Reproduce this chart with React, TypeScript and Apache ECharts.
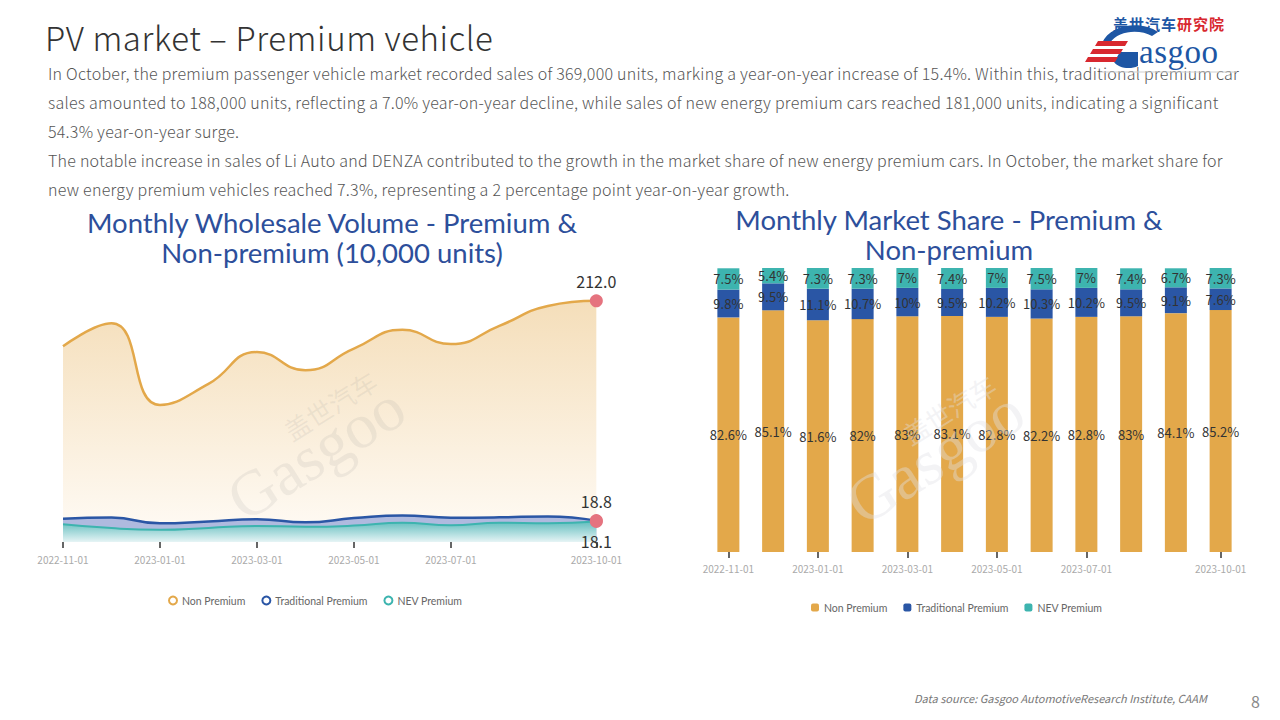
import React, { useEffect, useRef } from 'react';
import * as echarts from 'echarts';

// ---------- data ----------
const months = [
  '2022-11-01', '2022-12-01', '2023-01-01', '2023-02-01', '2023-03-01', '2023-04-01',
  '2023-05-01', '2023-06-01', '2023-07-01', '2023-08-01', '2023-09-01', '2023-10-01',
];
const seriesNames = ['Non Premium', 'Traditional Premium', 'NEV Premium'];

// wholesale volume, 10,000 units
const nonPremiumVolume = [172.0, 192.3, 120.5, 139.0, 167.0, 151.0, 170.0, 186.5, 174.0, 190.0, 207.5, 212.0];
const traditionalVolume = [20.4, 21.5, 16.4, 18.1, 20.1, 17.3, 21.0, 23.4, 21.4, 21.7, 22.5, 18.8];
const nevVolume = [15.6, 12.2, 10.8, 12.4, 14.1, 13.4, 14.4, 17.0, 14.7, 16.9, 16.5, 18.1];

// market share, %
const nonPremiumShare = [82.6, 85.1, 81.6, 82, 83, 83.1, 82.8, 82.2, 82.8, 83, 84.1, 85.2];
const traditionalShare = [9.8, 9.5, 11.1, 10.7, 10, 9.5, 10.2, 10.3, 10.2, 9.5, 9.1, 7.6];
const nevShare = [7.5, 5.4, 7.3, 7.3, 7, 7.4, 7, 7.5, 7, 7.4, 6.7, 7.3];

const paragraphLines = [
  'In October, the premium passenger vehicle market recorded sales of 369,000 units, marking a year-on-year increase of 15.4%. Within this, traditional premium car',
  'sales amounted to 188,000 units, reflecting a 7.0% year-on-year decline, while sales of new energy premium cars reached 181,000 units, indicating a significant',
  '54.3% year-on-year surge.',
  'The notable increase in sales of Li Auto and DENZA contributed to the growth in the market share of new energy premium cars. In October, the market share for',
  'new energy premium vehicles reached 7.3%, representing a 2 percentage point year-on-year growth.',
];

// ---------- styles ----------
const GOLD = '#E3A84A';
const BLUE = '#2A56A5';
const TEAL = '#3DB4AF';
const TITLE_BLUE = '#2D4F9B';
const CJK = '"Noto Sans CJK SC", "Noto Sans", sans-serif';
const TITLE_FONT = 'Lato, "Noto Sans", sans-serif';

const labelInterval = (i: number) => (i % 2 === 0 && i <= 8) || i === months.length - 1;

function withEndPoint(arr: number[], pos: string) {
  return arr.map((v, i) =>
    i === arr.length - 1
      ? {
          value: v,
          symbol: 'circle',
          symbolSize: 13,
          itemStyle: { color: '#E5737F' },
          label: {
            show: true,
            position: pos,
            distance: 5,
            color: '#333',
            fontSize: 16,
            fontFamily: CJK,
            formatter: (p: any) => Number(p.value).toFixed(1),
          },
        }
      : v
  );
}

function watermark(cx: number, cy: number, fill: string) {
  return [
    {
      type: 'text',
      x: cx + 14,
      y: cy - 48,
      rotation: 0.56,
      z: 100,
      silent: true,
      style: { text: '盖世汽车', fontSize: 26, fontFamily: CJK, fill, align: 'center', verticalAlign: 'middle' },
    },
    {
      type: 'text',
      x: cx,
      y: cy,
      rotation: 0.56,
      z: 100,
      silent: true,
      style: { text: 'Gasgoo', fontSize: 64, fontFamily: '"Liberation Serif", serif', fill, align: 'center', verticalAlign: 'middle' },
    },
  ];
}

function titleText(x: number, y: number, text: string) {
  return {
    type: 'text', x, y, z: 100,
    style: { text, fontSize: 27.5, lineHeight: 28, fontFamily: TITLE_FONT, fill: TITLE_BLUE, align: 'center', verticalAlign: 'middle' },
  };
}

function LeftChart() {
  const ref = useRef<HTMLDivElement>(null);
  useEffect(() => {
    const chart = echarts.init(ref.current!, null, { renderer: 'svg' });
    chart.setOption({
      animation: false,
      graphic: [
        titleText(332, 27, 'Monthly Wholesale Volume - Premium &'),
        titleText(332, 57, 'Non-premium (10,000 units)'),
        ...watermark(316, 258, 'rgba(140,140,140,0.12)'),
      ],
      legend: {
        left: 163,
        top: 395,
        icon: 'emptyCircle',
        itemWidth: 8,
        itemHeight: 8,
        itemGap: 16,
        data: seriesNames,
        textStyle: { color: '#666', fontSize: 10.5, fontFamily: 'Lato, sans-serif' },
      },
      grid: { left: 63, right: 23, top: 74, bottom: 83 },
      xAxis: {
        type: 'category',
        data: months,
        boundaryGap: false,
        axisLine: { show: false },
        axisTick: { show: true, interval: labelInterval, length: 6, lineStyle: { color: '#333', width: 1.5 } },
        axisLabel: { interval: labelInterval, color: '#aaa', fontSize: 10, fontFamily: CJK, margin: 12 },
        splitLine: { show: false },
      },
      yAxis: { type: 'value', min: 0, max: 240, show: false },
      series: [
        {
          name: seriesNames[0],
          type: 'line',
          smooth: true,
          symbol: 'none',
          showSymbol: true,
          data: withEndPoint(nonPremiumVolume, 'top'),
          lineStyle: { color: GOLD, width: 2.5 },
          itemStyle: { color: GOLD },
          areaStyle: {
            color: new echarts.graphic.LinearGradient(0, 0, 0, 1, [
              { offset: 0, color: '#F0D09C' },
              { offset: 1, color: '#FFFAF3' },
            ]),
          },
        },
        {
          name: seriesNames[1],
          type: 'line',
          smooth: true,
          symbol: 'none',
          showSymbol: true,
          data: withEndPoint(traditionalVolume, 'top'),
          lineStyle: { color: BLUE, width: 2.5 },
          itemStyle: { color: BLUE },
          areaStyle: { color: '#AFBADF', opacity: 1 },
        },
        {
          name: seriesNames[2],
          type: 'line',
          smooth: true,
          symbol: 'none',
          showSymbol: true,
          data: withEndPoint(nevVolume, 'bottom'),
          lineStyle: { color: TEAL, width: 2 },
          itemStyle: { color: TEAL },
          areaStyle: {
            color: new echarts.graphic.LinearGradient(0, 0, 0, 1, [
              { offset: 0, color: '#62BDBE' },
              { offset: 1, color: '#E6F4F5' },
            ]),
            opacity: 1,
          },
        },
      ],
    });
    return () => chart.dispose();
  }, []);
  return <div ref={ref} style={{ position: 'absolute', left: 0, top: 195, width: 625, height: 430 }} />;
}

function RightChart() {
  const ref = useRef<HTMLDivElement>(null);
  useEffect(() => {
    const chart = echarts.init(ref.current!, null, { renderer: 'svg' });
    const barLabel = {
      show: true,
      position: 'inside',
      color: '#333',
      fontSize: 13,
      fontFamily: CJK,
      formatter: '{c}%',
    };
    chart.setOption({
      animation: false,
      graphic: [
        titleText(309, 24, 'Monthly Market Share - Premium &'),
        titleText(309, 54, 'Non-premium'),
        ...watermark(295, 262, 'rgba(225,225,230,0.4)'),
      ],
      legend: {
        left: 166,
        top: 402,
        icon: 'roundRect',
        itemWidth: 8,
        itemHeight: 8,
        itemGap: 16,
        data: seriesNames,
        textStyle: { color: '#666', fontSize: 10.5, fontFamily: 'Lato, sans-serif' },
      },
      grid: { left: 66, right: 37, top: 73, bottom: 73 },
      xAxis: {
        type: 'category',
        data: months,
        axisLine: { show: false },
        axisTick: { show: true, alignWithLabel: true, interval: labelInterval, length: 6, lineStyle: { color: '#333', width: 1.5 } },
        axisLabel: { interval: labelInterval, color: '#aaa', fontSize: 10, fontFamily: CJK, margin: 11 },
      },
      yAxis: { type: 'value', min: 0, max: 100, show: false },
      series: [
        { name: seriesNames[0], type: 'bar', stack: 'share', barWidth: 22, data: nonPremiumShare, itemStyle: { color: GOLD }, label: barLabel },
        { name: seriesNames[1], type: 'bar', stack: 'share', barWidth: 22, data: traditionalShare, itemStyle: { color: BLUE }, label: barLabel },
        { name: seriesNames[2], type: 'bar', stack: 'share', barWidth: 22, data: nevShare, itemStyle: { color: TEAL }, label: barLabel },
      ],
    });
    return () => chart.dispose();
  }, []);
  return <div ref={ref} style={{ position: 'absolute', left: 640, top: 195, width: 640, height: 430 }} />;
}

function Logo() {
  // page origin of this svg: (1080, 10)
  return (
    <svg width={170} height={70} style={{ position: 'absolute', left: 1080, top: 10 }}>
      <line x1={20} y1={62} x2={157} y2={62} stroke="#cfcfcf" strokeWidth={1} />
      <path d="M22 33 C 30 14, 62 10, 78 22 L 72 26 C 60 19, 38 20, 30 33 Z" fill="#1D56A4" />
      <path d="M40 42 L 58 42 L 58 56 C 50 60, 38 58, 34 52 Z" fill="#1D56A4" />
      <polygon points="18,31 48,31 45,36 15,36" fill="#D8282F" />
      <polygon points="13,39 43,39 40,44 10,44" fill="#D8282F" />
      <polygon points="8,47 38,47 35,52 5,52" fill="#D8282F" />
      <text x={33} y={20} fontSize={15} fontWeight={700} fontFamily={CJK} fill="#1D56A4" letterSpacing={1}>
        盖世汽车<tspan fill="#D8282F">研究院</tspan>
      </text>
      <text x={59} y={53} fontSize={33} fontFamily='"Liberation Serif", serif' fill="#1D56A4" letterSpacing={0.5}>asgoo</text>
    </svg>
  );
}

export default function App() {
  return (
    <div
      style={{
        position: 'absolute', left: 0, top: 0, width: 1280, height: 720,
        background: '#fff', overflow: 'hidden', fontFamily: CJK,
      }}
    >
      <div style={{ position: 'absolute', left: 45, top: 15, fontSize: 33, fontWeight: 300, color: '#333', lineHeight: '44px', whiteSpace: 'nowrap', letterSpacing: '0.6px' }}>
        PV market – Premium vehicle
      </div>
      {paragraphLines.map((t, i) => (
        <div
          key={i}
          style={{
            position: 'absolute', left: 48, top: 59 + i * 29, fontSize: 16, fontWeight: 300,
            color: '#555', lineHeight: '29px', whiteSpace: 'nowrap', letterSpacing: '0.25px',
          }}
        >
          {t}
        </div>
      ))}
      <Logo />
      <LeftChart />
      <RightChart />
      <div style={{ position: 'absolute', left: 914, top: 690, fontSize: 11, fontStyle: 'italic', color: '#777', whiteSpace: 'nowrap' }}>
        Data source: Gasgoo AutomotiveResearch Institute, CAAM
      </div>
      <div style={{ position: 'absolute', left: 1251, top: 689, fontSize: 16, color: '#888' }}>8</div>
    </div>
  );
}
